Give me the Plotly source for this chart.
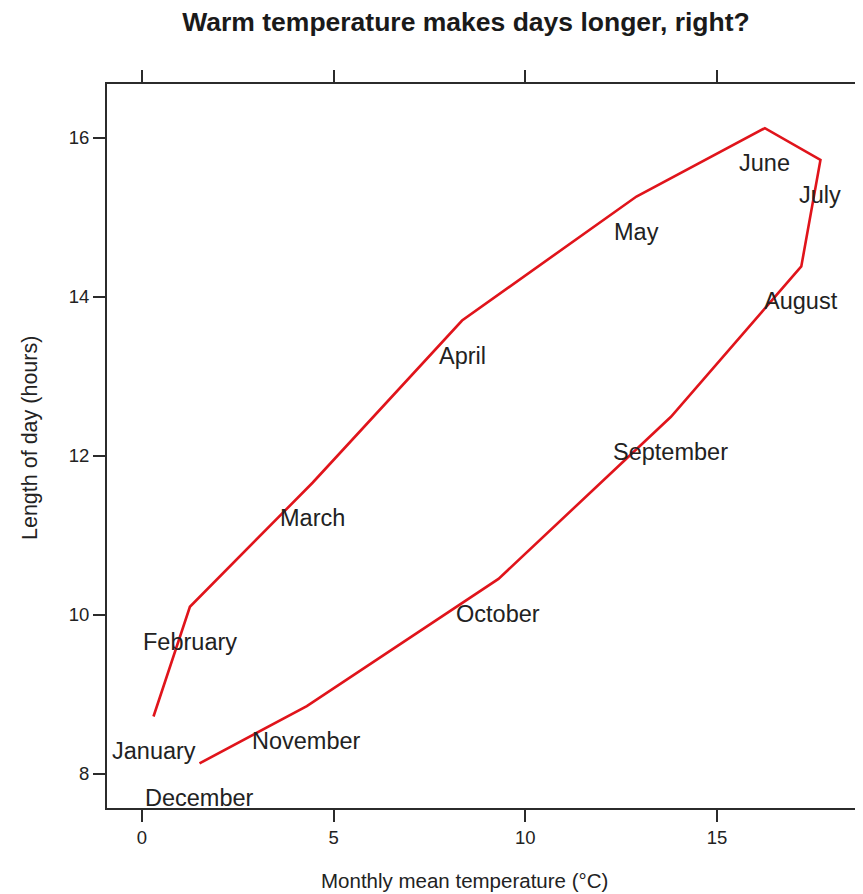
import plotly.graph_objects as go


# ------------------------------------------------
# DATA
# ------------------------------------------------
months = [
    "January", "February", "March", "April", "May", "June",
    "July", "August", "September", "October", "November", "December"
]

mean_temp = [0.3, 1.25, 4.45, 8.35, 12.9, 16.25, 17.7, 17.2, 13.8, 9.3, 4.3, 1.5]

day_length = [8.72, 10.1, 11.66, 13.7, 15.26, 16.12, 15.72, 14.38, 12.49, 10.45, 8.85, 8.13]

x_ticks = [0, 5, 10, 15]
y_ticks = [8, 10, 12, 14, 16]


# ------------------------------------------------
# CHART
# ------------------------------------------------
# page body has an 8px margin, so the figure is 8px smaller than the window
fig_w, fig_h = 855, 886

font_family = "Liberation Sans, Arial, sans-serif"
text_col = "#222222"
axis_col = "#2b2b2b"

fig = go.Figure()

fig.add_trace(
    go.Scatter(
        x=mean_temp,
        y=day_length,
        mode="lines",
        line=dict(color="#e0141b", width=2.6),
        hoverinfo="skip",
        showlegend=False
    )
)

# month names sit just below each point (like pos=1 in R)
for m, t, d in zip(months, mean_temp, day_length):
    fig.add_annotation(
        x=t,
        y=d,
        text=m,
        showarrow=False,
        yshift=-35,
        xanchor="center",
        yanchor="middle",
        font=dict(family=font_family, size=23.5, color=text_col)
    )

# axis titles (placed as in the original lattice layout)
fig.add_annotation(
    text="Monthly mean temperature (°C)",
    xref="paper", yref="paper",
    x=0.4735, y=0,
    xanchor="center", yanchor="middle",
    yshift=-72,
    showarrow=False,
    font=dict(family=font_family, size=20.5, color=text_col)
)
fig.add_annotation(
    text="Length of day (hours)",
    xref="paper", yref="paper",
    x=0, y=0.5,
    xanchor="center", yanchor="middle",
    xshift=-77, yshift=8,
    textangle=-90,
    showarrow=False,
    font=dict(family=font_family, size=21.5, color=text_col)
)

fig.update_layout(
    width=fig_w,
    height=fig_h,
    plot_bgcolor="white",
    paper_bgcolor="white",
    margin=dict(l=99, r=0, t=76, b=86, autoexpand=False),
    font=dict(family=font_family, color=text_col),
    title=dict(
        text="<b>Warm temperature makes days longer, right?</b>",
        x=458 / fig_w,
        xref="container",
        xanchor="center",
        y=1 - 14 / fig_h,
        yref="container",
        yanchor="middle",
        font=dict(family=font_family, size=26.5, color="#1a1a1a")
    )
)

fig.update_xaxes(
    range=[-0.913, 18.81],
    tickvals=x_ticks,
    ticks="outside",
    ticklen=12,
    tickwidth=1.5,
    tickcolor=axis_col,
    showline=True,
    linecolor=axis_col,
    linewidth=2,
    mirror="ticks",
    showgrid=False,
    zeroline=False,
    automargin=False,
    tickfont=dict(size=18.5, color=text_col)
)

fig.update_yaxes(
    range=[7.569, 16.675],
    tickvals=y_ticks,
    ticks="outside",
    ticklen=12,
    tickwidth=1.5,
    tickcolor=axis_col,
    showline=True,
    linecolor=axis_col,
    linewidth=2,
    showgrid=False,
    zeroline=False,
    automargin=False,
    tickfont=dict(size=18.5, color=text_col)
)

fig.write_html("out.html")
